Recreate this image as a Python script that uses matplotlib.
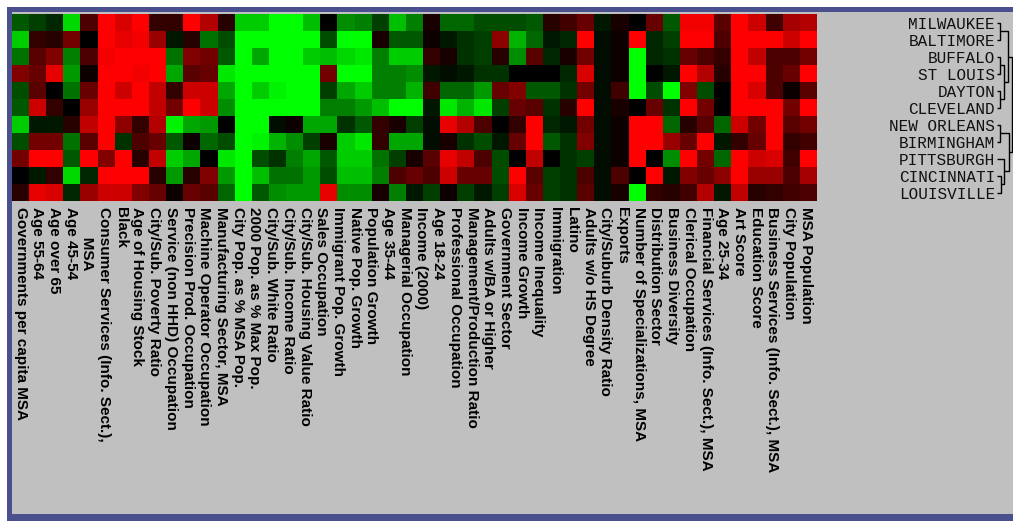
import numpy as np
import matplotlib
matplotlib.use("Agg")
import matplotlib.pyplot as plt
from matplotlib.colors import LinearSegmentedColormap
from matplotlib.patches import Rectangle
from matplotlib.transforms import blended_transform_factory

# ---------------------------------------------------------------- data
cities = ["MILWAUKEE", "BALTIMORE", "BUFFALO", "ST LOUIS", "DAYTON", "CLEVELAND",
          "NEW ORLEANS", "BIRMINGHAM", "PITTSBURGH", "CINCINNATI", "LOUISVILLE"]

column_labels = [
    "Governments per capita MSA", "Age 55-64", "Age over 65", "Age 45-54",
    "       MSA", "Consumer Services (Info. Sect.),", "Black", "Age of Housing Stock",
    "City/Sub. Poverty Ratio", "Service (non HHD) Occupation",
    "Precision Prod. Occupation", "Machine Operator Occupation",
    "Manufacturing Sector, MSA", "City Pop. as % MSA Pop.", "2000 Pop. as % Max Pop.",
    "City/Sub. White Ratio", "City/Sub. Income Ratio", "City/Sub. Housing Value Ratio",
    "Sales Occupation", "Immigrant Pop. Growth", "Native Pop. Growth",
    "Population Growth", "Age 35-44", "Managerial Occupation", "Income (2000)",
    "Age 18-24", "Professional Occupation", "Management/Production Ratio",
    "Adults w/BA or Higher", "Government Sector", "Income Growth",
    "Income Inequality", "Immigration", "Latino", "Adults w/o HS Degree",
    "City/Suburb Density Ratio", "Exports", "Number of Specializations, MSA",
    "Distribution Sector", "Business Diversity", "Clerical Occupation",
    "Financial Services (Info. Sect.), MSA", "Age 25-34", "Art Score",
    "Education Score", "Business Services (Info. Sect.), MSA", "City Population",
    "MSA Population",
]

# standardized scores (-1 = strongly below, +1 = strongly above), one list per city
milwaukee = [-0.35, -0.25, -0.15, -0.85, 0.3, 1.0, 0.85, 1.0, 0.2, 0.2, 1.0, 0.7, 0.15,
             -0.8, -0.8, -1, -1, -0.75, 0.0, -0.55, -0.5, -0.25, -0.75, -0.5, 0.1, -0.4,
             -0.4, -0.3, -0.3, -0.3, -0.35, 0.15, 0.25, 0.4, -0.1, 0.1, 0.0, 0.4, -0.35,
             0.95, 0.95, 0.35, 1.0, 0.8, 0.25, 0.65, 0.7]
baltimore = [-0.8, 0.2, 0.15, 0.45, 0.0, 1.0, 0.9, 0.95, 0.6, -0.1, 0.15, -0.45, -0.3,
             -1, -1, -1, -1, -1, -0.3, -1, -1, 0.1, -0.35, -0.35, 0.05, -0.1, -0.2,
             -0.25, 0.55, -0.7, -0.4, -0.1, -0.15, 1.0, -0.05, 0.05, 1.0, -0.15, -0.25,
             1.0, 1.0, 0.3, 1.0, 1.0, 1.0, 0.8, 1.0]
buffalo = [-0.45, 0.35, 0.5, -0.5, 0.3, 0.95, 1.0, 1.0, 1.0, -0.45, 0.5, 0.45, -0.35,
           -1, -0.65, -1, -1, -0.8, -0.75, -0.85, -0.9, -0.5, -0.8, -0.8, 0.2, 0.1, -0.2,
           -0.25, 0.15, -0.55, 0.35, -0.15, 0.1, 0.45, -0.05, 0.05, -1.0, -0.15, -0.2,
           0.4, 0.3, 0.2, 1.0, 0.75, 0.3, 0.3, 0.45]
st_louis = [0.5, 0.4, 0.9, -0.6, 0.05, 1.0, 1.0, 0.95, 1.0, -0.65, 0.35, 0.4, -0.9,
            -1, -1, -1, -1, -1, 0.45, -1, -1, -0.5, -0.5, -0.55, -0.1, -0.05, -0.1,
            -0.2, -0.2, 0.0, 0.0, 0.0, -0.15, 0.85, -0.05, 0.05, -1.0, 0.0, -0.1,
            1.0, 0.7, 0.15, 1.0, 1.0, 0.3, 0.4, 1.0]
dayton = [-0.3, 0.35, 0.0, -0.45, 0.4, 1.0, 0.8, 1.0, 0.75, 0.2, 0.8, 0.8, -0.65,
          -1, -0.8, -0.95, -1, -1, -0.25, -0.65, -0.8, -0.5, -0.5, -0.7, 0.25, -0.4,
          -0.4, -0.6, 0.4, 0.5, -0.35, -0.35, -0.2, 0.45, -0.05, 0.25, -1.0, -0.3,
          -1.0, 0.5, -0.3, 0.0, 1.0, 0.85, 0.3, 0.05, 0.35]
cleveland = [-0.35, 0.8, 0.2, 0.0, 0.6, 1.0, 1.0, 1.0, 0.75, 0.45, 1.0, 0.8, -0.55,
             -1, -1, -1, -1, -1, -0.5, -0.5, -0.6, -0.75, -1, -1, -0.1, -0.9, -0.7,
             -0.9, -0.25, 0.4, 0.35, -0.2, 0.15, 1.0, -0.05, 0.1, 0.0, 0.4, -0.2,
             1.0, 0.45, 0.0, 1.0, 1.0, 1.0, 0.45, 1.0]
new_orleans = [-0.8, -0.1, -0.1, 0.15, 0.75, 1.0, 0.55, 0.2, 0.7, -0.95, -0.65, -0.6,
               0.0, -1, -1, -0.05, 0.05, -0.65, -0.65, -0.2, -0.35, 0.2, 0.1, -0.25,
               -0.05, 0.9, 0.7, 0.3, 0.0, 0.2, 1.0, -0.15, -0.1, 0.45, -0.05, 0.05,
               1.0, 1.0, -0.4, 0.15, 0.35, -0.4, 0.8, 0.45, 1.0, 0.35, 0.45]
birmingham = [-0.3, 0.45, 0.45, -0.45, 0.35, 1.0, -0.2, 0.3, 0.4, -0.35, 0.05, -0.4,
              -0.3, -1, -0.95, -0.7, -0.55, -0.25, 0.1, -0.8, -0.9, 0.2, -0.65, -0.65,
              -0.05, 0.1, -0.2, -0.3, -0.1, 0.4, 1.0, -0.35, -0.2, 0.5, -0.05, 0.05,
              1.0, 1.0, 0.6, 0.4, 1.0, -0.1, 0.2, 0.4, 1.0, 0.2, 0.25]
pittsburgh = [0.45, 1.0, 1.0, -0.35, 1.0, 0.5, 1.0, 0.15, 0.75, -0.8, -0.65, 0.0,
              -0.9, -1, -0.3, -0.2, -0.5, -0.65, -0.35, -0.8, -0.8, -0.45, -0.25, 0.1,
              0.35, 0.9, 0.75, 0.3, -0.3, 0.0, 0.75, 0.0, -0.2, -0.25, -0.05, 0.05,
              1.0, 0.0, -0.55, 1.0, 0.45, -0.4, 1.0, 0.8, 0.85, 0.25, 1.0]
cincinnati = [0.0, -0.1, 0.2, -0.85, -0.15, 1.0, 1.0, 1.0, 0.15, -0.6, 0.15, 0.5,
              -0.6, -1, -0.75, -0.45, -0.45, -0.6, -0.3, -0.75, -0.75, -0.5, 0.3, 0.4,
              0.3, 0.8, 0.4, 0.4, -0.3, 1.0, 0.35, -0.25, -0.2, 0.3, -0.05, 0.3,
              0.0, 1.0, -0.1, 0.5, 0.4, 0.55, 1.0, 0.6, 0.6, 0.3, 0.65]
louisville = [0.15, 0.9, 0.85, -0.15, 0.6, 0.8, 0.8, 0.5, 0.4, 0.05, 0.4, 0.35,
              -0.4, -1, -0.35, -0.55, -0.6, -0.6, 0.9, -0.55, -0.55, 0.1, -0.5, -0.1,
              -0.25, 0.05, -0.25, -0.1, -0.25, 0.85, 0.4, -0.25, -0.2, 0.35, -0.05,
              0.1, -1.0, 0.2, 0.15, 0.25, 0.7, -0.1, 0.75, 0.15, 0.2, 0.25, 0.3]

# hierarchical clustering of the cities: (left node, right node, merge height)
# leaves are 0..10, each merge creates the next node id (11, 12, ...)
city_merges = [(0, 1, 4), (2, 3, 4), (4, 5, 4), (12, 13, 8), (11, 14, 12),
               (6, 7, 4), (9, 10, 5), (8, 17, 8), (16, 18, 13), (15, 19, 16)]

# ---------------------------------------------------------------- figure
W, H = 1013, 521
fig = plt.figure(figsize=(W / 100, H / 100), dpi=100, facecolor="white")


def fx(px):
    return px / W


def fy(py):
    return 1 - py / H


# panel frame
fig.add_artist(Rectangle((fx(7), 0), 1 - fx(7), fy(7), transform=fig.transFigure,
                         facecolor="#4a4f8e", edgecolor="none", zorder=-3))
fig.add_artist(Rectangle((fx(12), fy(514)), 1 - fx(12), fy(12) - fy(514),
                         transform=fig.transFigure, facecolor="#c0c0c0",
                         edgecolor="none", zorder=-2))

matrix = np.array([milwaukee, baltimore, buffalo, st_louis, dayton, cleveland,
                   new_orleans, birmingham, pittsburgh, cincinnati, louisville])
n_rows, n_cols = matrix.shape

cmap = LinearSegmentedColormap.from_list("green_black_red",
                                         ["#00ff00", "#000000", "#ff0000"])

ax = fig.add_axes([fx(12), fy(201), fx(816) - fx(12), fy(14) - fy(201)])
ax.imshow(matrix, cmap=cmap, vmin=-1, vmax=1, aspect="auto",
          interpolation="nearest")
for s in ax.spines.values():
    s.set_visible(False)
ax.set_yticks([])

tick_pos = np.linspace(0.0, n_cols - 1.1, len(column_labels))
ax.set_xticks(tick_pos)
ax.set_xticklabels(column_labels, rotation=-90, fontsize=11, fontweight="bold",
                   family="Liberation Sans", color="black")
ax.tick_params(axis="x", length=0, pad=4.5)

# city names
trans = blended_transform_factory(fig.transFigure, ax.transData)
for r, name in enumerate(cities):
    ax.text(fx(995), r + 0.38, name, transform=trans, ha="right", va="baseline",
            family="Liberation Mono", fontsize=11.5, color="#111111", clip_on=False)

# dendrogram of the cities
dax = fig.add_axes([fx(996), fy(201), fx(1020) - fx(996), fy(14) - fy(201)])
dax.set_xlim(0, 24)
dax.set_ylim(n_rows - 0.5, -0.5)
dax.axis("off")
pos = {i: float(i) for i in range(n_rows)}
height = {i: 1.0 for i in range(n_rows)}
node = n_rows
for a, b, h in city_merges:
    dax.plot([height[a], h, h, height[b]], [pos[a], pos[a], pos[b], pos[b]],
             color="black", lw=1.0, solid_capstyle="butt")
    pos[node] = (pos[a] + pos[b]) / 2
    height[node] = h
    node += 1

fig.savefig("out.png", dpi=100, facecolor=fig.get_facecolor())
